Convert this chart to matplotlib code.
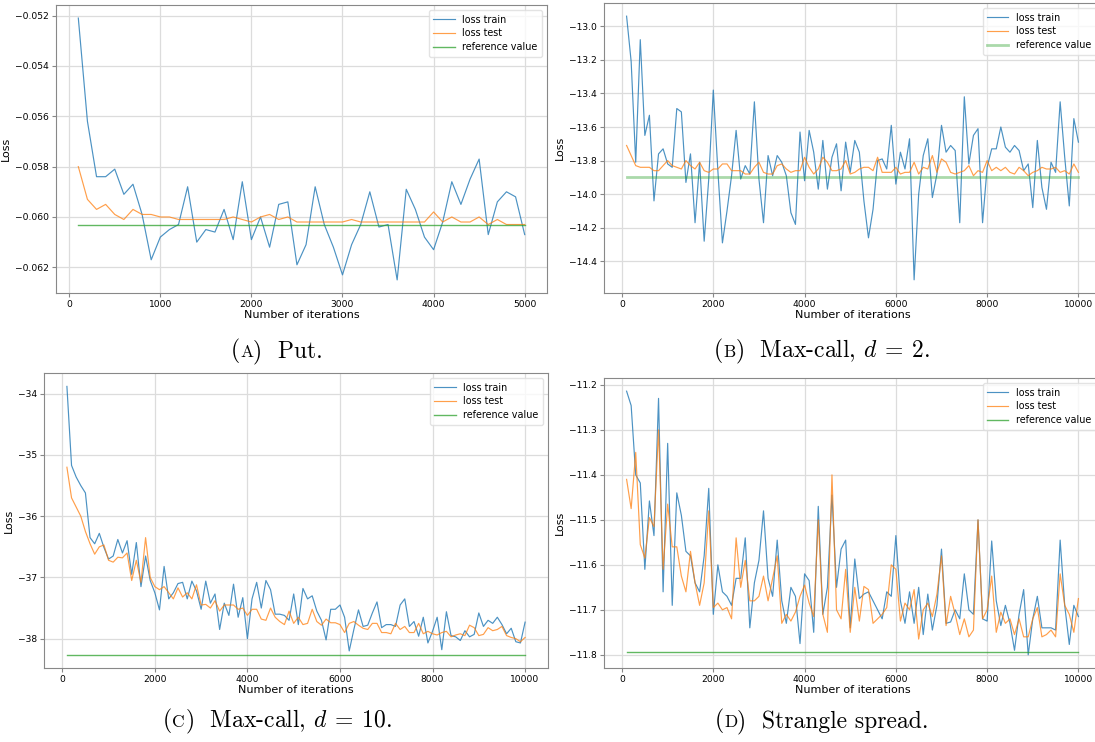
import numpy as np
import matplotlib.pyplot as plt

plt.rcParams['mathtext.fontset'] = 'cm'

# ---------------- data ----------------
iters_put = np.arange(100, 5001, 100)
iters_long = np.arange(100, 10001, 100)

put_train = [-0.0521, -0.0562, -0.0584, -0.0584, -0.0581, -0.0591, -0.0587, -0.0599, -0.0617, -0.0608,
             -0.0605, -0.0603, -0.0588, -0.0610, -0.0605, -0.0606, -0.0597, -0.0609, -0.0586, -0.0609,
             -0.0600, -0.0612, -0.0595, -0.0594, -0.0619, -0.0611, -0.0588, -0.0603, -0.0612, -0.0623,
             -0.0611, -0.0603, -0.0590, -0.0604, -0.0603, -0.0625, -0.0589, -0.0597, -0.0608, -0.0613,
             -0.0602, -0.0586, -0.0595, -0.0585, -0.0577, -0.0607, -0.0594, -0.0590, -0.0592, -0.0607]
put_test = [-0.0580, -0.0593, -0.0597, -0.0595, -0.0599, -0.0601, -0.0597, -0.0599, -0.0599, -0.0600,
            -0.0600, -0.0601, -0.0601, -0.0601, -0.0601, -0.0601, -0.0601, -0.0600, -0.0601, -0.0602,
            -0.0600, -0.0599, -0.0601, -0.0600, -0.0602, -0.0602, -0.0602, -0.0602, -0.0602, -0.0602,
            -0.0601, -0.0602, -0.0602, -0.0602, -0.0602, -0.0602, -0.0602, -0.0602, -0.0602, -0.0598,
            -0.0602, -0.0600, -0.0602, -0.0602, -0.0600, -0.0603, -0.0601, -0.0603, -0.0603, -0.0603]
put_ref = -0.0603

maxcall2_train = [-12.94, -13.21, -13.81, -13.08, -13.65, -13.53, -14.04, -13.76, -13.73, -13.82,
                  -13.84, -13.49, -13.51, -13.93, -13.76, -14.17, -13.81, -14.28, -13.91, -13.38,
                  -13.86, -14.29, -14.10, -13.89, -13.62, -13.91, -13.83, -13.88, -13.45, -13.91,
                  -14.17, -13.77, -13.89, -13.77, -13.81, -13.89, -14.11, -14.18, -13.63, -13.92,
                  -13.62, -13.75, -13.97, -13.68, -13.97, -13.78, -13.70, -13.98, -13.69, -13.87,
                  -13.68, -13.75, -14.04, -14.26, -14.09, -13.80, -13.79, -13.85, -13.59, -13.94,
                  -13.75, -13.85, -13.67, -14.51, -14.00, -13.77, -13.67, -14.02, -13.88, -13.59,
                  -13.75, -13.71, -13.74, -14.17, -13.42, -13.82, -13.65, -13.61, -14.17, -13.84,
                  -13.73, -13.73, -13.60, -13.72, -13.75, -13.71, -13.74, -13.86, -13.82, -14.08,
                  -13.68, -13.96, -14.09, -13.81, -13.87, -13.45, -13.78, -14.07, -13.55, -13.69]
maxcall2_test = [-13.71, -13.77, -13.83, -13.84, -13.84, -13.84, -13.86, -13.86, -13.83, -13.80,
                 -13.83, -13.84, -13.85, -13.80, -13.83, -13.85, -13.81, -13.86, -13.87, -13.85,
                 -13.85, -13.82, -13.82, -13.86, -13.86, -13.86, -13.88, -13.88, -13.84, -13.81,
                 -13.87, -13.88, -13.88, -13.83, -13.82, -13.85, -13.87, -13.86, -13.86, -13.78,
                 -13.84, -13.88, -13.85, -13.78, -13.81, -13.86, -13.86, -13.85, -13.80, -13.88,
                 -13.87, -13.85, -13.84, -13.84, -13.86, -13.78, -13.87, -13.87, -13.87, -13.84,
                 -13.88, -13.87, -13.87, -13.81, -13.88, -13.84, -13.85, -13.77, -13.87, -13.79,
                 -13.81, -13.87, -13.88, -13.87, -13.86, -13.83, -13.89, -13.86, -13.87, -13.80,
                 -13.86, -13.84, -13.86, -13.84, -13.87, -13.88, -13.84, -13.86, -13.89, -13.87,
                 -13.86, -13.84, -13.85, -13.85, -13.84, -13.87, -13.86, -13.88, -13.82, -13.87]
maxcall2_ref = -13.895

maxcall10_train = [-33.88, -35.17, -35.36, -35.50, -35.62, -36.35, -36.45, -36.28, -36.51, -36.70,
                   -36.65, -36.38, -36.60, -36.40, -36.95, -36.43, -37.15, -36.65, -37.05, -37.25,
                   -37.53, -36.82, -37.35, -37.25, -37.10, -37.08, -37.35, -37.06, -37.22, -37.52,
                   -37.06, -37.42, -37.27, -37.85, -37.42, -37.62, -37.11, -37.65, -37.33, -38.00,
                   -37.35, -37.08, -37.50, -37.05, -37.20, -37.60, -37.60, -37.62, -37.70, -37.27,
                   -37.77, -37.18, -37.35, -37.30, -37.55, -37.70, -38.02, -37.52, -37.52, -37.45,
                   -37.65, -38.20, -37.85, -37.53, -37.80, -37.78, -37.58, -37.40, -37.82, -37.77,
                   -37.77, -37.80, -37.45, -37.35, -37.80, -37.72, -37.96, -37.65, -38.07, -37.88,
                   -37.65, -38.18, -37.56, -37.95, -37.97, -38.03, -37.87, -37.97, -37.93, -37.58,
                   -37.80, -37.70, -37.75, -37.65, -37.77, -37.92, -37.83, -38.05, -38.07, -37.73]
maxcall10_test = [-35.20, -35.70, -35.85, -36.00, -36.25, -36.45, -36.62, -36.50, -36.47, -36.72,
                  -36.75, -36.67, -36.68, -36.60, -37.05, -36.72, -37.08, -36.35, -37.00, -37.15,
                  -37.20, -37.15, -37.25, -37.35, -37.17, -37.32, -37.25, -37.35, -37.12, -37.45,
                  -37.44, -37.50, -37.38, -37.55, -37.45, -37.45, -37.45, -37.52, -37.50, -37.62,
                  -37.52, -37.52, -37.68, -37.70, -37.50, -37.65, -37.72, -37.77, -37.55, -37.75,
                  -37.65, -37.77, -37.75, -37.52, -37.72, -37.78, -37.68, -37.74, -37.74, -37.77,
                  -37.90, -37.75, -37.72, -37.78, -37.83, -37.85, -37.75, -37.75, -37.90, -37.90,
                  -37.92, -37.75, -37.85, -37.80, -37.90, -37.90, -37.75, -37.92, -37.88, -37.92,
                  -37.94, -37.90, -37.88, -37.97, -37.94, -37.92, -37.95, -37.78, -37.82, -37.95,
                  -37.93, -37.82, -37.87, -37.85, -37.80, -37.95, -37.98, -38.00, -38.05, -37.98]
maxcall10_ref = -38.26

strangle_train = [-11.214, -11.246, -11.400, -11.418, -11.610, -11.458, -11.535, -11.230, -11.660, -11.330,
                  -11.690, -11.440, -11.490, -11.570, -11.580, -11.640, -11.660, -11.580, -11.430, -11.710,
                  -11.600, -11.660, -11.670, -11.690, -11.630, -11.630, -11.540, -11.740, -11.640, -11.590,
                  -11.480, -11.630, -11.670, -11.545, -11.680, -11.730, -11.650, -11.670, -11.775, -11.620,
                  -11.635, -11.750, -11.470, -11.710, -11.650, -11.445, -11.650, -11.565, -11.545, -11.740,
                  -11.587, -11.675, -11.665, -11.660, -11.680, -11.700, -11.720, -11.660, -11.670, -11.535,
                  -11.680, -11.730, -11.660, -11.730, -11.650, -11.755, -11.665, -11.745, -11.690, -11.565,
                  -11.730, -11.727, -11.700, -11.720, -11.620, -11.700, -11.710, -11.500, -11.720, -11.725,
                  -11.547, -11.680, -11.735, -11.690, -11.730, -11.790, -11.710, -11.655, -11.800, -11.720,
                  -11.670, -11.740, -11.740, -11.740, -11.745, -11.545, -11.690, -11.777, -11.690, -11.715]
strangle_test = [-11.410, -11.475, -11.350, -11.555, -11.585, -11.495, -11.515, -11.300, -11.610, -11.465,
                 -11.560, -11.560, -11.625, -11.660, -11.570, -11.640, -11.690, -11.640, -11.480, -11.695,
                 -11.685, -11.700, -11.695, -11.720, -11.540, -11.650, -11.590, -11.680, -11.680, -11.670,
                 -11.625, -11.680, -11.630, -11.580, -11.730, -11.710, -11.725, -11.705, -11.670, -11.645,
                 -11.685, -11.715, -11.500, -11.710, -11.750, -11.400, -11.700, -11.720, -11.610, -11.750,
                 -11.650, -11.725, -11.648, -11.655, -11.730, -11.720, -11.710, -11.695, -11.600, -11.610,
                 -11.725, -11.685, -11.700, -11.655, -11.765, -11.700, -11.685, -11.715, -11.665, -11.580,
                 -11.735, -11.670, -11.710, -11.755, -11.720, -11.760, -11.745, -11.500, -11.720, -11.700,
                 -11.625, -11.750, -11.705, -11.730, -11.720, -11.755, -11.720, -11.760, -11.760, -11.720,
                 -11.695, -11.760, -11.755, -11.745, -11.760, -11.620, -11.690, -11.710, -11.750, -11.675]
strangle_ref = -11.793

# ---------------- figure ----------------
fig = plt.figure(figsize=(10.95, 7.42), dpi=100)
W, H = 1095.0, 742.0

def add_ax(left, top, right, bottom):
    return fig.add_axes([left / W, 1 - bottom / H, (right - left) / W, (bottom - top) / H])

# axes, x, train, test, reference, reference linewidth, reference alpha
panels = [
    (add_ax(56, 5, 547, 293), iters_put, put_train, put_test, put_ref, 1.0, 0.75),
    (add_ax(604, 3, 1101, 293), iters_long, maxcall2_train, maxcall2_test, maxcall2_ref, 2.0, 0.4),
    (add_ax(44, 373, 548, 668), iters_long, maxcall10_train, maxcall10_test, maxcall10_ref, 1.0, 0.75),
    (add_ax(604, 378, 1101, 668), iters_long, strangle_train, strangle_test, strangle_ref, 1.0, 0.75),
]

for ax, it, tr, te, ref, reflw, refa in panels:
    ax.plot(it, tr, color='#1f77b4', lw=0.85, alpha=0.8, label='loss train')
    ax.plot(it, te, color='#ff7f0e', lw=0.85, alpha=0.75, label='loss test')
    ax.plot(it, np.full(len(it), ref), color='#2ca02c', lw=reflw, alpha=refa, label='reference value')
    ax.grid(True, color='#dcdcdc', lw=0.9)
    ax.set_axisbelow(True)
    for s in ax.spines.values():
        s.set_color('#888888')
    ax.tick_params(labelsize=6.6, length=3, color='#888888', pad=2)
    ax.set_xlabel('Number of iterations', fontsize=8, labelpad=1)
    ax.set_ylabel('Loss', fontsize=8, labelpad=3)
    ax.legend(loc='upper right', fontsize=6.9, handlelength=2.2, framealpha=0.8,
              edgecolor='#dddddd', borderpad=0.5, labelspacing=0.4)

panels[0][0].set_yticks([-0.052, -0.054, -0.056, -0.058, -0.060, -0.062])


def caption(cx, y, parts):
    texts = []
    for s, size in parts:
        texts.append(fig.text(0, y, s, fontsize=size, family='cmr10', va='baseline', ha='left'))
    fig.canvas.draw()
    r = fig.canvas.get_renderer()
    widths = [t.get_window_extent(r).width for t in texts]
    x = cx - sum(widths) / 2
    for t, w in zip(texts, widths):
        t.set_x(x / W)
        x += w


caption(277, 1 - 357 / H, [('(', 17), ('A', 12.5), (')  Put.', 17)])
caption(822, 1 - 357 / H, [('(', 17), ('B', 12.5), (r')  Max-call, $d\:=\:2$.', 17)])
caption(277, 1 - 727 / H, [('(', 17), ('C', 12.5), (r')  Max-call, $d\:=\:10$.', 17)])
caption(822, 1 - 727 / H, [('(', 17), ('D', 12.5), (')  Strangle spread.', 17)])

fig.savefig('out.png', dpi=100)
